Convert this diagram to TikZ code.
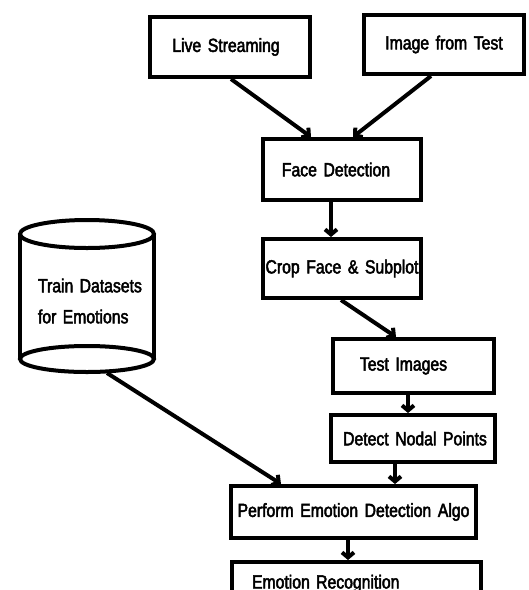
\documentclass[tikz,border=0pt]{standalone}
\usepackage{fontspec}
\setmainfont[FakeStretch=0.83,FakeBold=2.5,WordSpace=1.5]{Liberation Sans}
\usetikzlibrary{arrows.meta,calc}
\begin{document}
\begin{tikzpicture}[x=1pt,y=-1pt,
  line width=4pt,
  every node/.style={font=\fontsize{19}{22}\selectfont, inner sep=0pt},
  box/.style={draw, rectangle, line width=4pt},
  flow/.style={-{Straight Barb[length=5pt,width=12pt]}, line width=4pt}]
\clip (0,0) rectangle (529,590);
\useasboundingbox (0,0) rectangle (529,590);

% process boxes
\node[box, minimum width=160, minimum height=60] (ls) at (230,47) {\hspace*{-8pt}Live Streaming};
\node[box, minimum width=160, minimum height=59] (it) at (444,44.5) {Image from Test};
\node[box, minimum width=158, minimum height=61] (fd) at (342,169.5) {\hspace*{-12pt}Face Detection};
\node[box, minimum width=158, minimum height=59] (cf) at (342,268.5) {\raisebox{3pt}{Crop Face \& Subplot}};
\node[box, minimum width=161, minimum height=54] (ti) at (413.5,366) {\hspace*{-20pt}Test Images};
\node[box, minimum width=164, minimum height=47] (dn) at (413,438.5) {\hspace*{4pt}Detect Nodal Points};
\node[box, minimum width=245, minimum height=52] (pe) at (353.5,512) {Perform Emotion Detection Algo};
\node[box, anchor=north, minimum width=249, minimum height=60, text width=209, align=left,
      text height=13pt, text depth=20pt] (er) at (356.5,560) {Emotion Recognition};

% training data store
\draw (20,234) -- (20,359) (154,234) -- (154,359);
\draw (87,234) ellipse [x radius=67, y radius=14];
\draw (87,359) ellipse [x radius=67, y radius=13];
\node[align=left, text width=110, font=\fontsize{19}{31}\selectfont] (db) at (93,301)
  {Train Datasets\\for Emotions};
\coordinate (dbout) at (107,373);

% connectors
\draw[flow] ($(ls.south west)+(83,0)$) -- ($(fd.north west)+(50,0)$);
\draw[flow] ($(it.south west)+(69,0)$) -- ($(fd.north west)+(92,0)$);
\draw[flow] ($(fd.south west)+(70,0)$) coordinate (a1) -- (a1 |- cf.north);
\draw[flow] ($(cf.south west)+(80,0)$) -- ($(ti.north west)+(65,0)$);
\draw[flow] ($(ti.south west)+(77,0)$) coordinate (a2) -- (a2 |- dn.north);
\draw[flow] ($(dn.south west)+(66,0)$) coordinate (a3) -- (a3 |- pe.north);
\draw[flow] (dbout) -- ($(pe.north west)+(52,0)$);
\draw[flow] ($(pe.south west)+(119,0)$) coordinate (a4) -- (a4 |- er.north);
\end{tikzpicture}
\end{document}
